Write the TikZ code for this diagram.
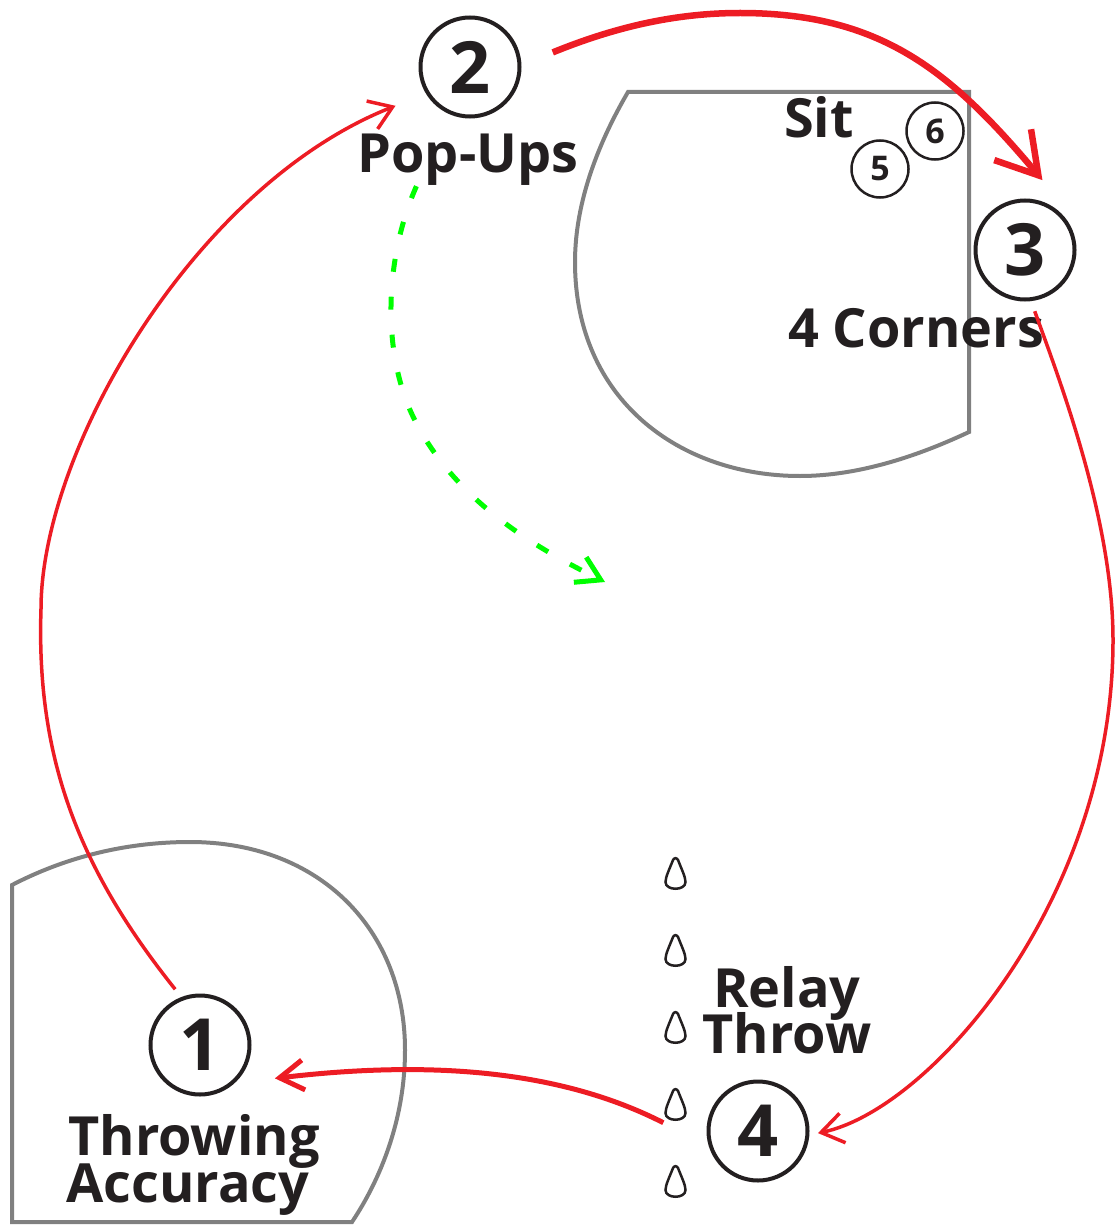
\documentclass[tikz,border=0pt]{standalone}
\usepackage{fontspec}
\setmainfont{Open Sans}
\usetikzlibrary{arrows.meta,calc}
\definecolor{ink}{HTML}{231F20}
\definecolor{rd}{HTML}{ED1C24}
\definecolor{fieldgray}{HTML}{808080}
\definecolor{grn}{HTML}{00FF00}
\tikzset{
  field/.style={draw=fieldgray, line width=4pt, line join=miter},
  bignum/.style={circle, draw=ink, line width=4pt, minimum size=99pt, inner sep=0pt, text=ink, font=\fontsize{72}{72}\selectfont\bfseries},
  smallnum/.style={circle, draw=ink, line width=2.5pt, minimum size=57pt, inner sep=0pt, text=ink, font=\fontsize{34}{34}\selectfont\bfseries},
  lbl/.style={inner sep=0pt, anchor=base, text=ink, font=\fontsize{54}{54}\selectfont\bfseries},
  flow/.style={draw=rd, line width=3.5pt, -{Straight Barb[length=22pt,width=30pt]}},
  thickflow/.style={draw=rd, line width=6.5pt, -{Straight Barb[length=40pt,width=48pt]}},
  midflow/.style={draw=rd, line width=5pt, -{Straight Barb[length=24pt,width=30pt]}},
  greenflow/.style={draw=grn, line width=5pt, dash pattern=on 13pt off 25pt, -{Straight Barb[length=23pt,width=28pt]}},
  conestyle/.style={draw=ink, line width=2.5pt, fill=white},
  cone/.pic={\path[conestyle] (-2.5,-14) .. controls (-6,-5) and (-10,3) .. (-10,8) .. controls (-10,17) and (10,17) .. (10,8) .. controls (10,3) and (6,-5) .. (2.5,-14) .. controls (1,-16.5) and (-1,-16.5) .. (-2.5,-14) -- cycle;}
}
\begin{document}
\begin{tikzpicture}[x=1pt,y=-1pt]
\useasboundingbox (0,0) rectangle (1115,1225);
% fields
\path[field] (628,92) -- (969,92) -- (969,432) .. controls (920,455) and (860,476) .. (800,476) .. controls (680,476) and (575,400) .. (575,262) .. controls (575,200) and (600,140) .. cycle;
\path[field] (352,1222) -- (12,1222) -- (12,885) .. controls (60,860) and (120,842) .. (190,842) .. controls (320,842) and (405,930) .. (405,1050) .. controls (405,1120) and (380,1180) .. cycle;
% station circles
\node[bignum] (n1) at (200,1045) {1};
\node[bignum] (n2) at (470,67) {2};
\node[bignum] (n3) at (1025,250) {3};
\node[bignum] (n4) at (758,1131) {4};
\node[smallnum] (n5) at (880,169) {5};
\node[smallnum] (n6) at (935,131) {6};
% labels
\node[lbl] (popups) at (468,172) {Pop-Ups};
\node[lbl] (sit) at (819,138) {Sit};
\node[lbl] (corners) at (916,347) {4 Corners};
\node[lbl] (relay) at (787,1007) {Relay};
\node[lbl] (throw) at (787,1053) {Throw};
\node[lbl] (throwing) at (194,1155) {Throwing};
\node[lbl] (accuracy) at (188,1202) {Accuracy};
% cones
\foreach \cy in {874,951,1028,1105,1182} \pic at (675.5,\cy) {cone};
% red rotation arrows
\draw[flow] ($(n1)+(-114:61)$) .. controls (80,870) and (36,760) .. (41,609) .. controls (41,450) and (195,185) .. ($(n2)+(-207.5:84)$);
\draw[thickflow] ($(n2)+(-10:84)$) .. controls (620,25) and (680,13) .. (740,13) .. controls (880,13) and (950,70) .. ($(n3)+(-76:72)$);
\draw[flow] ($(n3)+(81:62)$) .. controls (1060,381) and (1113,520) .. (1113,640) .. controls (1113,900) and (930,1110) .. ($(n4)+(2:60)$);
\draw[midflow] ($(n4)+(-175:95)$) .. controls (560,1070) and (430,1060) .. ($(n1)+(24:82)$);
% green dashed path
\coordinate (gend) at (605,582);
\draw[greenflow] ($(popups.south west)+(59,1)$) .. controls (388,250) and (380,340) .. (410,410) .. controls (450,500) and (540,550) .. (gend);
\end{tikzpicture}
\end{document}
